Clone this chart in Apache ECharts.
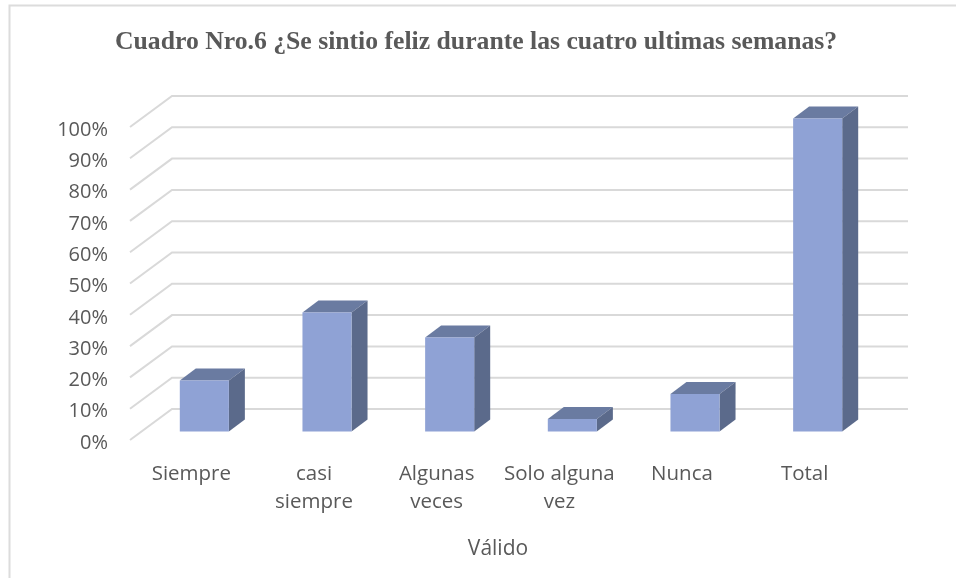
<!DOCTYPE html>
<html><head><meta charset="utf-8">
<style>html,body{margin:0;padding:0;background:#fff}#c{width:956px;height:578px}</style>
<script src="https://cdn.jsdelivr.net/npm/echarts@6/dist/echarts.min.js"></script>
</head><body><div id="c"></div>
<script>
const titleText = 'Cuadro Nro.6 ¿Se sintio feliz durante las cuatro ultimas semanas?';
const axisName = 'Válido';
const categories = ['Siempre', 'casi\nsiempre', 'Algunas\nveces', 'Solo alguna\nvez', 'Nunca', 'Total'];
const values = [16.3, 38, 30, 4, 12, 100];
const ticks = [0, 10, 20, 30, 40, 50, 60, 70, 80, 90, 100];

const WALL_DX = 42, WALL_DY = 31, FRONT_DX = 13, FRONT_DY = 8.5, DEPTH_DX = 16, DEPTH_DY = 12;
const chart = echarts.init(document.getElementById('c'), null, {renderer: 'canvas'});
const textColor = '#595959', font = '"Open Sans", sans-serif';

chart.setOption({
  animation: false,
  backgroundColor: '#fff',
  title: {
    text: titleText, left: 110, top: 24,
    textStyle: {fontFamily: '"Liberation Serif", serif', fontWeight: 'bold', fontSize: 25.7, color: textColor}
  },
  grid: {left: 130, top: 127, width: 736, height: 313, containLabel: false},
  xAxis: {
    type: 'category', data: categories,
    axisLine: {show: false}, axisTick: {show: false},
    axisLabel: {color: textColor, fontFamily: font, fontSize: 20.5, lineHeight: 28, margin: 20, interval: 0},
    name: axisName, nameLocation: 'middle', nameGap: 99,
    nameTextStyle: {color: textColor, fontFamily: font, fontSize: 21}
  },
  yAxis: {
    type: 'value', min: 0, max: 100, interval: 10,
    axisLine: {show: false}, axisTick: {show: false}, splitLine: {show: false},
    axisLabel: {color: textColor, fontFamily: font, fontSize: 20, margin: 22, verticalAlign: 'top', lineHeight: 6, formatter: '{value}%'}
  },
  graphic: [{
    type: 'polyline', silent: true,
    shape: {points: [[9.5, 578], [9.5, 5.5], [956, 5.5]]},
    style: {fill: 'none', stroke: '#DCDCDC', lineWidth: 2}
  }],
  series: [{
    type: 'custom', z: 1, silent: true,
    data: ticks.map(t => [0, t]),
    renderItem(params, api) {
      const cs = params.coordSys;
      const y = api.coord([0, api.value(1)])[1];
      return {
        type: 'polyline',
        shape: {points: [[cs.x, y], [cs.x + WALL_DX, y - WALL_DY], [cs.x + cs.width + WALL_DX, y - WALL_DY]]},
        style: {fill: 'none', stroke: '#D9D9D9', lineWidth: 2}
      };
    }
  }, {
    type: 'custom', z: 2, silent: true,
    data: values.map((v, i) => [i, v]),
    renderItem(params, api) {
      const top = api.coord([api.value(0), api.value(1)]);
      const base = api.coord([api.value(0), 0]);
      const w = api.size([1, 0])[0] * 0.4;
      const l = top[0] + FRONT_DX - w / 2, r = l + w;
      const t = top[1] - FRONT_DY, b = base[1] - FRONT_DY;
      return {
        type: 'group',
        children: [
          {type: 'polygon', shape: {points: [[l, t], [l + DEPTH_DX, t - DEPTH_DY], [r + DEPTH_DX, t - DEPTH_DY], [r, t]]}, style: {fill: '#6A7BA1'}},
          {type: 'polygon', shape: {points: [[r, t], [r + DEPTH_DX, t - DEPTH_DY], [r + DEPTH_DX, b - DEPTH_DY], [r, b]]}, style: {fill: '#5B6A8B'}},
          {type: 'rect', shape: {x: l, y: t, width: w, height: b - t}, style: {fill: '#8FA2D5'}}
        ]
      };
    }
  }]
});
</script></body></html>
